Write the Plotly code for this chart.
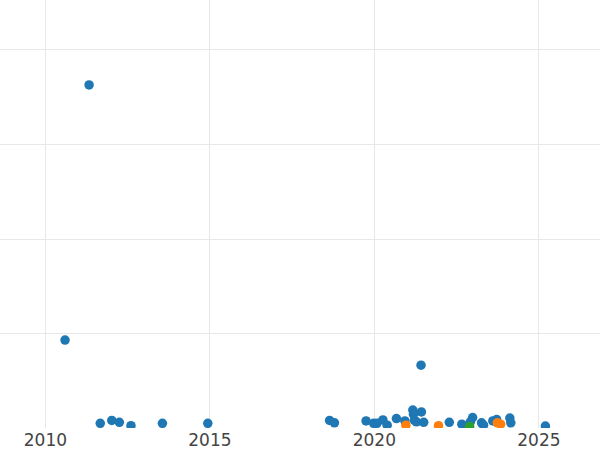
"""Scatter of values over time, three groups, on a date axis."""
import plotly.graph_objects as go

# Group A (blue)
dates_a = [
    "2010-08-07", "2011-05-01", "2011-09-02", "2012-01-08", "2012-04-01",
    "2012-08-08", "2013-07-23", "2014-12-09", "2018-08-22", "2018-10-15",
    "2019-10-01", "2019-12-24", "2020-01-30", "2020-04-05", "2020-05-22",
    "2020-09-02", "2020-12-05", "2021-03-03", "2021-03-10", "2021-06-06",
    "2021-06-02", "2021-03-21", "2021-04-12", "2021-07-02", "2022-04-12",
    "2022-08-29", "2022-12-27", "2022-12-02", "2023-04-05", "2023-04-27",
    "2023-08-08", "2023-09-20", "2024-02-13", "2024-02-24", "2025-03-14",
]
values_a = [
    18.6, 72.6, 1.0, 1.6, 1.2,
    0.5, 1.0, 1.0, 1.6, 1.1,
    1.5, 1.0, 1.0, 1.7, 0.6,
    2.0, 1.5, 3.8, 2.9, 3.4,
    13.3, 1.6, 1.3, 1.2, 1.2,
    0.8, 2.2, 1.3, 1.1, 0.6,
    1.5, 1.8, 2.1, 1.1, 0.4,
]

# Group B (orange)
dates_b = ["2020-12-16", "2021-12-13", "2023-09-27", "2023-11-03"]
values_b = [0.6, 0.5, 1.1, 0.8]

# Group C (green)
dates_c = ["2022-11-24"]
values_c = [0.3]

fig = go.Figure()

for dates, values, color in [
    (dates_a, values_a, "#1f77b4"),
    (dates_b, values_b, "#ff7f0e"),
    (dates_c, values_c, "#2ca02c"),
]:
    fig.add_trace(go.Scatter(
        x=dates,
        y=values,
        mode="markers",
        marker=dict(color=color, size=9.5),
    ))

fig.update_layout(
    template="none",
    width=600,
    height=450,
    margin=dict(l=0, r=0, t=0, b=22),
    showlegend=False,
    font=dict(family="DejaVu Sans", size=17, color="#444"),
    plot_bgcolor="white",
    paper_bgcolor="white",
)
fig.update_xaxes(
    type="date",
    range=["2008-08-15", "2026-11-10"],
    tick0="2010-01-01",
    dtick="M60",
    tickformat="%Y",
    showgrid=True,
    gridcolor="#e8e8e8",
    zeroline=False,
    showline=False,
    ticks="",
)
fig.update_yaxes(
    range=[0, 90.58],
    dtick=20,
    showgrid=True,
    gridcolor="#e8e8e8",
    zeroline=False,
    showline=False,
    showticklabels=False,
    ticks="",
)

# drop the page's default body margin so the figure sits at the window corner
fig.write_html(
    "out.html",
    config={"displayModeBar": False},
    post_script="document.body.style.margin = '0';",
)
